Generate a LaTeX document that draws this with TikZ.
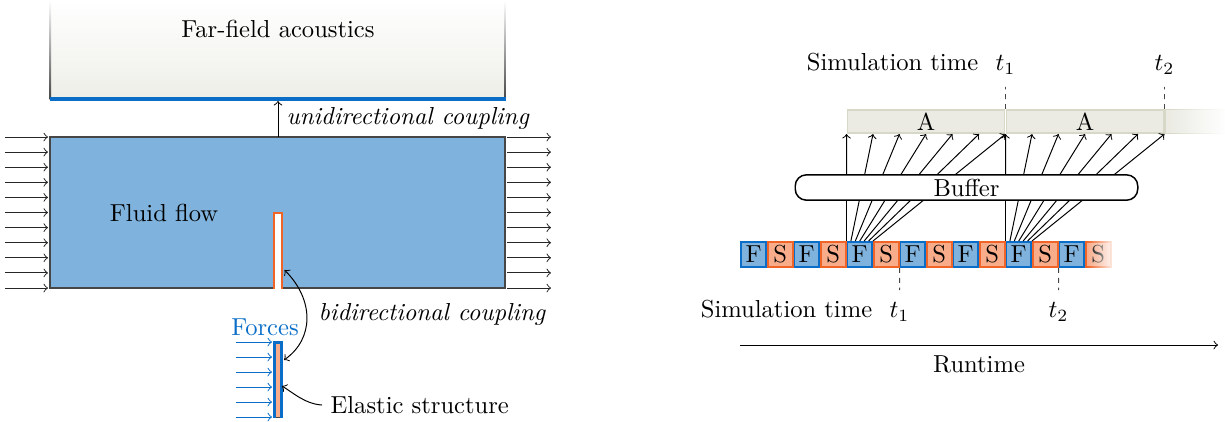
\documentclass[tikz,border=0pt]{standalone}
\usepackage{tikz}
\usetikzlibrary{positioning,calc,fadings}
\tikzset{>=to}
\definecolor{flowBlue}{RGB}{127,178,220}
\definecolor{lineBlue}{RGB}{10,110,200}
\definecolor{lineOrange}{RGB}{240,100,40}
\definecolor{fillOrange}{RGB}{248,172,138}
\definecolor{ffGrey}{RGB}{238,238,232}
\definecolor{aGrey}{RGB}{235,235,228}
\definecolor{aBorder}{RGB}{216,216,200}
\definecolor{penGrey}{RGB}{70,70,70}
\tikzset{
  fblock/.style={draw=lineBlue, fill=flowBlue, line width=0.8pt, minimum width=10pt, minimum height=10.2pt, inner sep=0pt},
  sblock/.style={fblock, draw=lineOrange, fill=fillOrange},
  abox/.style={draw=aBorder, fill=aGrey, line width=0.8pt, minimum width=63.9pt, minimum height=9.4pt, inner sep=0pt},
  timetick/.style={penGrey, dash pattern=on 2pt off 2pt, shorten >=1.5pt},
  flowarrow/.style={->, black!85},
  forcearrow/.style={->, lineBlue},
}

\begin{document}
\begin{tikzpicture}[x=0.407pt,y=-0.407pt]
  \useasboundingbox (0,0) rectangle (1225,421);
  % far field
  \shade[top color=white, bottom color=ffGrey] (50,0) rectangle (505,99);
  \shade[top color=white, bottom color=penGrey] (49.5,0) rectangle (51,99);
  \shade[top color=white, bottom color=penGrey] (504,0) rectangle (505.5,99);
  \draw[lineBlue, line width=1.4pt] (49.5,99) -- (505.5,99);
  \node (far) at (278,29) {Far-field acoustics};
  % fluid
  \draw[penGrey, line width=0.5pt, fill=flowBlue] (50,137) rectangle (505,288);
  \node (fluid) at (164,213) {Fluid flow};
  \foreach \i in {0,...,10}{
    \draw[flowarrow] (5,{137+15.1*\i}) -- (48,{137+15.1*\i});
    \draw[flowarrow] (507,{137+15.1*\i}) -- (551,{137+15.1*\i});
  }
  \draw[lineOrange, line width=1pt, fill=white] (274,288.5) -- (274,213) -- (282,213) -- (282,288.5);
  \coordinate (ffb) at (278,101);
  \coordinate (flt) at (278,136.5);
  \draw[->] (flt) -- (ffb);
  \node[anchor=west] (uni) at (278,118) {\itshape unidirectional coupling};
  % structure
  \coordinate (stA) at (284.5,270);
  \coordinate (stB) at (284,360);
  \draw[<->] (stA) .. controls (314.5,300) and (314,339) .. (stB);
  \node[anchor=west] (bi) at (310,314) {\itshape bidirectional coupling};
  \node[lineBlue] (forces) at (265,327) {Forces};
  \fill[fillOrange] (274,342) rectangle (281.5,417.5);
  \draw[penGrey] (273,417.5) -- (283,417.5);
  \draw[lineBlue, line width=1.2pt] (274.2,417.5) -- (274.2,342.5) -- (281.3,342.5) -- (281.3,417.5);
  \foreach \y in {342,357,...,417}
    \draw[forcearrow] (236,\y) -- (272,\y);
  \node[anchor=west] (elastic) at (322,405) {Elastic structure};
  \coordinate (elR) at (282,386);
  \draw[->] (elastic.west) .. controls (305,404) and (292,392) .. (elR);

  % coupling scheme
  \foreach \k in {0,2,...,12}
    \node[fblock] (b\k) at ({753.75+26.5*\k},254.5) {F};
  \foreach \k in {1,3,...,13}
    \node[sblock] (b\k) at ({753.75+26.5*\k},254.5) {S};
  \fill[white, path fading=west] (1087,238) rectangle (1116,271);
  \filldraw[draw=aBorder, fill=aGrey, line width=0.8pt] (1165,109.5) rectangle (1232,133.5);
  \fill[white, path fading=west] (1168,105) rectangle (1226,138);
  \node[abox] (a1) at (926,121.5) {A};
  \node[abox] (a2) at (1085,121.5) {A};
  \foreach \i in {0,...,6}{
    \draw[->] ($(b4.north west)!\i/6!(b4.north east)$) -- ($(a1.south west)!\i/6!(a1.south east)$);
    \draw[->] ($(b10.north west)!\i/6!(b10.north east)$) -- ($(a2.south west)!\i/6!(a2.south east)$);
  }
  \node[draw, fill=white, rounded corners=4.5pt, line width=0.6pt, minimum width=139.4pt, minimum height=10.3pt, inner sep=0pt] (buf) at (966.5,187.5) {Buffer};

  \node (t1up) at (1005.5,65) {$t_1$};
  \node (t2up) at (1164.5,65) {$t_2$};
  \node[anchor=base east] (simup) at (t1up.base west) {Simulation time};
  \draw[timetick] (a1.north east) -- (t1up);
  \draw[timetick] (a2.north east) -- (t2up);

  \node (t1low) at (899.5,312) {$t_1$};
  \node (t2low) at (1058.5,312) {$t_2$};
  \node[anchor=base east] (simlow) at (t1low.base west) {Simulation time};
  \draw[timetick] (b5.south east) -- (t1low);
  \draw[timetick] (b11.south east) -- (t2low);

  \coordinate (rt0) at (740,345);
  \coordinate (rt1) at (1218,345);
  \draw[->] (rt0) -- (rt1) node[midway, below=1pt] (runtime) {Runtime};
\end{tikzpicture}
\end{document}
